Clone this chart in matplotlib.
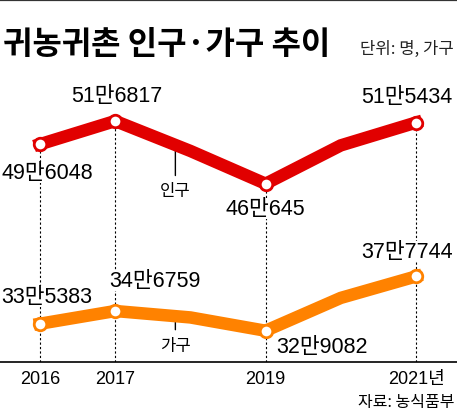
import matplotlib.pyplot as plt
import numpy as np
from matplotlib.lines import Line2D

plt.rcParams['font.family'] = ['Noto Sans CJK KR', 'DejaVu Sans']

# data
years = [2016, 2017, 2018, 2019, 2020, 2021]
tick_labels = ['2016', '2017', '', '2019', '', '2021년']
population = [496048, 516817, 490000, 460645, 495000, 515434]   # 인구
households = [335383, 346759, 341000, 329082, 358500, 377744]   # 가구
labeled = [0, 1, 3, 5]  # years that get a marker and a value label

RED = '#E10000'
ORANGE = '#FF8200'
NUM_FONT = ['Liberation Sans', 'Noto Sans CJK KR']


def man_label(v):
    return f"{v // 10000}만{v % 10000}"


fig = plt.figure(figsize=(4.57, 4.14), dpi=100)
ax = fig.add_axes([0, 1 - 363 / 414, 1, (363 - 80) / 414])

ax.set_xlim(2015.468, 2021.545)
ax.set_ylim(301122, 554407)

# dotted guides from the top value down to the baseline
for i in labeled:
    ax.plot([years[i], years[i]], [ax.get_ylim()[0], population[i]],
            color='black', lw=0.8, ls=(0, (2, 2)), zorder=1)

# lines
ax.plot(years, population, color=RED, lw=9, solid_joinstyle='miter', zorder=3,
        marker='o', markevery=labeled, ms=9, mfc='white', mec=RED, mew=2)
ax.plot(years, households, color=ORANGE, lw=9, solid_joinstyle='miter', zorder=3,
        marker='o', markevery=labeled, ms=9, mfc='white', mec=ORANGE, mew=2)

# value labels (offsets in pixels from the point)
red_offsets = [(7, -28), (2, 25), (0, -25), (-9, 26)]
orange_offsets = [(7, 27), (40, 31), (56, -16), (-9, 25)]
box = dict(facecolor='white', edgecolor='none', pad=0)
for i, off in zip(labeled, red_offsets):
    ax.annotate(man_label(population[i]), (years[i], population[i]), xytext=off,
                textcoords='offset pixels', ha='center', va='center', fontsize=15.5,
                family=NUM_FONT, bbox=box, zorder=2)
for i, off in zip(labeled, orange_offsets):
    ax.annotate(man_label(households[i]), (years[i], households[i]), xytext=off,
                textcoords='offset pixels', ha='center', va='center', fontsize=15.5,
                family=NUM_FONT, bbox=box, zorder=4)

# series name leaders
xl = 2017.8
ax.annotate('인구', (xl, np.interp(xl, years, population)), xytext=(0, -46),
            textcoords='offset pixels', ha='center', va='center', fontsize=12,
            arrowprops=dict(arrowstyle='-', lw=1, color='black', shrinkA=3, shrinkB=0),
            zorder=2)
ax.annotate('가구', (xl, np.interp(xl, years, households)), xytext=(0, -29),
            textcoords='offset pixels', ha='center', va='center', fontsize=12,
            arrowprops=dict(arrowstyle='-', lw=1, color='black', shrinkA=3, shrinkB=0),
            zorder=2)

# axes styling
for s in ['top', 'left', 'right']:
    ax.spines[s].set_visible(False)
ax.spines['bottom'].set_linewidth(1.2)
ax.set_yticks([])
ax.set_xticks(years)
ax.set_xticklabels(tick_labels, fontsize=13, family=NUM_FONT)
ax.tick_params(axis='x', length=0, pad=6)
ax.patch.set_alpha(0)

# titles and notes
fig.add_artist(Line2D([0, 1], [0.997, 0.997], transform=fig.transFigure,
                      color='#333333', lw=1.6))
fig.text(3 / 457, 1 - 45 / 414, '귀농귀촌 인구·가구 추이', fontsize=23, fontweight='bold',
         ha='left', va='center')
fig.text(454 / 457, 1 - 49 / 414, '단위: 명, 가구', fontsize=12, ha='right', va='center',
         color='#222222')
fig.text(455 / 457, 1 - 403 / 414, '자료: 농식품부', fontsize=11.5, ha='right', va='center')

fig.savefig('out.png', dpi=100)
